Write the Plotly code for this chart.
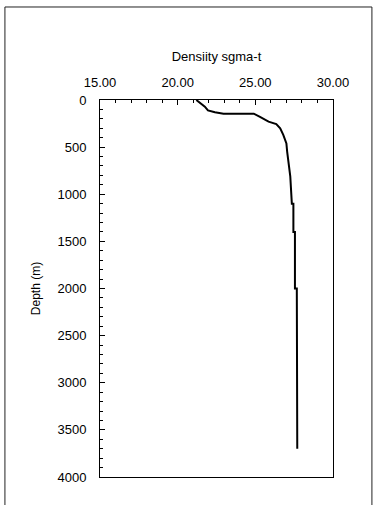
import plotly.graph_objects as go

# Density (sigma-t) profile vs depth
depth_m = [0, 35, 70, 110, 130, 145, 145, 180, 230, 255, 300, 370, 460, 550, 690, 810,
           1100, 1100, 1400, 1400, 2000, 2000, 3700]
sigma_t = [21.2, 21.45, 21.75, 21.95, 22.4, 22.95, 24.9, 25.3, 25.85, 26.35, 26.6, 26.8,
           27.0, 27.05, 27.15, 27.25, 27.35, 27.45, 27.45, 27.55, 27.55, 27.67, 27.7]

x_title = "Densiity sgma-t"
y_title = "Depth (m)"

fig = go.Figure()
fig.add_trace(go.Scatter(x=sigma_t, y=depth_m, mode="lines",
                         line=dict(color="black", width=2), hoverinfo="skip",
                         showlegend=False))

font = dict(family="Liberation Sans, Arial, sans-serif", size=13, color="black")

fig.update_layout(
    width=374, height=505,
    margin=dict(l=100, r=41, t=100, b=28),
    paper_bgcolor="white", plot_bgcolor="white",
    font=font,
    xaxis=dict(side="top", range=[15, 30], dtick=5, tick0=15, tickformat=".2f",
               ticks="inside", ticklen=5, tickcolor="black", ticklabelstandoff=7,
               minor=dict(dtick=1, ticks="inside", ticklen=3, tickcolor="black"),
               showline=True, linecolor="black", linewidth=1, mirror=True,
               showgrid=False, zeroline=False,
               title=dict(text=x_title, standoff=10, font=dict(size=13))),
    yaxis=dict(range=[4000, 0], dtick=500, tick0=0,
               ticks="inside", ticklen=5, tickcolor="black", ticklabelstandoff=10,
               minor=dict(dtick=100, ticks="inside", ticklen=3, tickcolor="black"),
               showline=True, linecolor="black", linewidth=1, mirror=True,
               showgrid=False, zeroline=False,
               title=dict(text=y_title, standoff=14, font=dict(size=12))),
    shapes=[dict(type="rect", xref="paper", yref="paper",
                 x0=-0.408, x1=1.167, y0=-0.09, y1=1.2467,
                 line=dict(color="#222", width=1), layer="below")],
)

fig.write_html("out.html")
